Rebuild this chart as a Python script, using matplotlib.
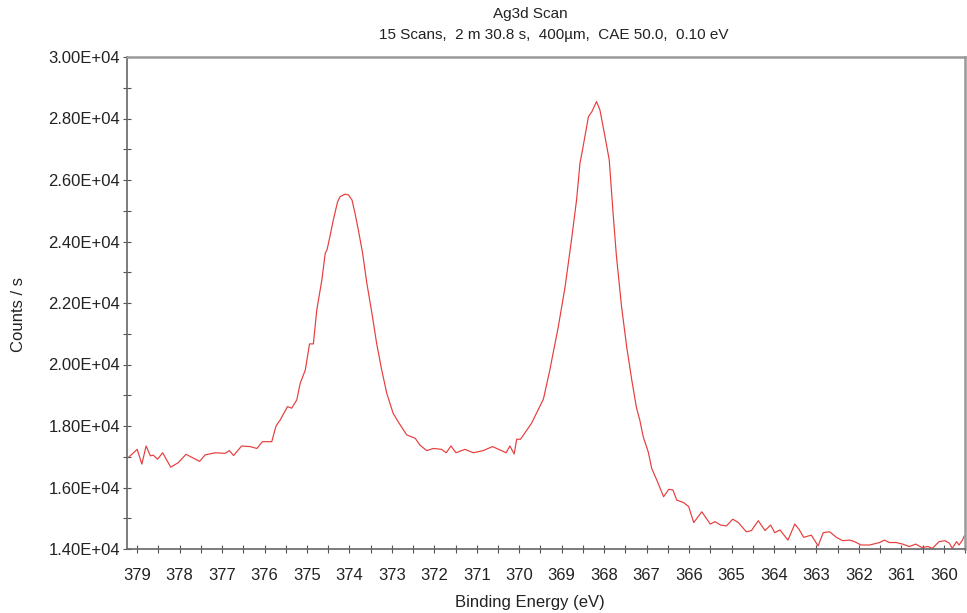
import matplotlib
matplotlib.use("Agg")
import matplotlib.pyplot as plt
from matplotlib.ticker import MultipleLocator, FuncFormatter

plt.rcParams['font.family'] = ['Liberation Sans', 'DejaVu Sans']

binding_energy = [
    379.19, 379.00, 378.89, 378.79, 378.69, 378.62, 378.52, 378.40, 378.21, 378.03,
    377.85, 377.53, 377.40, 377.16, 376.93, 376.83, 376.73, 376.54, 376.34, 376.18,
    376.05, 375.83, 375.73, 375.63, 375.46, 375.36, 375.24, 375.16, 375.04, 374.97,
    374.94, 374.85, 374.77, 374.65, 374.57, 374.53, 374.46, 374.38, 374.28, 374.22,
    374.10, 374.02, 373.94, 373.87, 373.79, 373.69, 373.59, 373.47, 373.36, 373.24,
    373.12, 372.97, 372.83, 372.65, 372.45, 372.34, 372.18, 372.02, 371.83, 371.72,
    371.61, 371.49, 371.28, 371.08, 370.85, 370.63, 370.45, 370.31, 370.22, 370.12,
    370.06, 369.97, 369.71, 369.43, 369.28, 369.08, 368.92, 368.77, 368.65, 368.57,
    368.51, 368.37, 368.29, 368.18, 368.10, 367.98, 367.88, 367.79, 367.71, 367.59,
    367.47, 367.35, 367.24, 367.16, 367.08, 366.96, 366.88, 366.76, 366.60, 366.48,
    366.38, 366.29, 366.13, 366.01, 365.89, 365.70, 365.50, 365.39, 365.26, 365.12,
    364.97, 364.84, 364.65, 364.53, 364.37, 364.21, 364.08, 363.98, 363.86, 363.67,
    363.51, 363.41, 363.30, 363.12, 362.96, 362.84, 362.69, 362.53, 362.38, 362.22,
    362.10, 361.95, 361.75, 361.51, 361.40, 361.28, 361.12, 360.97, 360.81, 360.66,
    360.52, 360.37, 360.27, 360.11, 359.97, 359.87, 359.80, 359.70, 359.64, 359.56,
    359.52,
]

counts = [
    17000, 17240, 16760, 17350, 17030, 17050, 16920, 17130, 16660, 16810,
    17080, 16850, 17060, 17130, 17110, 17200, 17040, 17350, 17330, 17270,
    17490, 17490, 18000, 18200, 18630, 18580, 18850, 19390, 19820, 20420,
    20670, 20670, 21770, 22750, 23620, 23720, 24160, 24700, 25290, 25460,
    25540, 25510, 25350, 24920, 24370, 23620, 22640, 21660, 20690, 19820,
    19060, 18410, 18090, 17710, 17600, 17380, 17200, 17270, 17240, 17130,
    17350, 17130, 17240, 17130, 17200, 17330, 17220, 17130, 17350, 17090,
    17570, 17570, 18090, 18880, 19820, 21230, 22530, 24050, 25350, 26540,
    26980, 28060, 28220, 28550, 28280, 27410, 26650, 24920, 23510, 21880,
    20580, 19500, 18600, 18190, 17650, 17150, 16620, 16240, 15700, 15940,
    15920, 15590, 15510, 15380, 14860, 15210, 14810, 14890, 14780, 14750,
    14970, 14860, 14560, 14600, 14920, 14600, 14780, 14530, 14620, 14290,
    14810, 14640, 14380, 14450, 14100, 14530, 14560, 14380, 14270, 14290,
    14240, 14130, 14130, 14210, 14290, 14210, 14210, 14160, 14080, 14160,
    14050, 14080, 14020, 14240, 14270, 14190, 14020, 14240, 14130, 14290,
    14420,
]

title_text = "Ag3d Scan"
subtitle_text = "15 Scans,  2 m 30.8 s,  400µm,  CAE 50.0,  0.10 eV"
x_label = "Binding Energy (eV)"
y_label = "Counts / s"

W, H = 967, 613
fig = plt.figure(figsize=(W / 100, H / 100), dpi=100)
ax = fig.add_axes([127 / W, 1 - 549 / H, (965 - 127) / W, (549 - 57) / H])

ax.plot(binding_energy, counts, color='#e63c3c', linewidth=0.85)

ax.set_xlim(379.24, 359.5)
ax.set_ylim(14000, 30000)

ax.xaxis.set_major_locator(MultipleLocator(1))
ax.xaxis.set_minor_locator(MultipleLocator(0.5))
ax.yaxis.set_major_locator(MultipleLocator(2000))
ax.yaxis.set_minor_locator(MultipleLocator(1000))
ax.xaxis.set_major_formatter(FuncFormatter(lambda v, p: f"{v:.0f}"))
ax.yaxis.set_major_formatter(FuncFormatter(lambda v, p: f"{v:.2E}"))

fs_tick = 12
fs_text = 11
ax.tick_params(which='both', direction='inout', length=6, width=0.8,
               color='#555555', labelsize=fs_tick, labelcolor='#222222',
               top=False, right=False)
ax.tick_params(axis='x', which='major', pad=11)
ax.tick_params(axis='y', which='major', pad=2)

for s in ['left', 'bottom']:
    ax.spines[s].set_color('#666666')
    ax.spines[s].set_linewidth(1.2)
for s in ['top', 'right']:
    ax.spines[s].set_color('#999999')
    ax.spines[s].set_linewidth(1.8)

ax.set_xlabel(x_label, fontsize=12, color='#222222')
ax.set_ylabel(y_label, fontsize=12, color='#222222')
# place axis labels at the reference positions (figure pixels -> axes coords)
ax.xaxis.set_label_coords((530 - 127) / (965 - 127), (549 - 603) / (549 - 57))
ax.xaxis.label.set_va('center')
ax.yaxis.set_label_coords((18 - 127) / (965 - 127), (549 - 314) / (549 - 57))
ax.yaxis.label.set_va('center')

fig.text(530 / W, 1 - 14 / H, title_text, ha='center', va='center', fontsize=fs_text, color='#222222')
fig.text(554 / W, 1 - 35 / H, subtitle_text, ha='center', va='center', fontsize=fs_text, color='#222222')

fig.savefig("out.png", dpi=100)
